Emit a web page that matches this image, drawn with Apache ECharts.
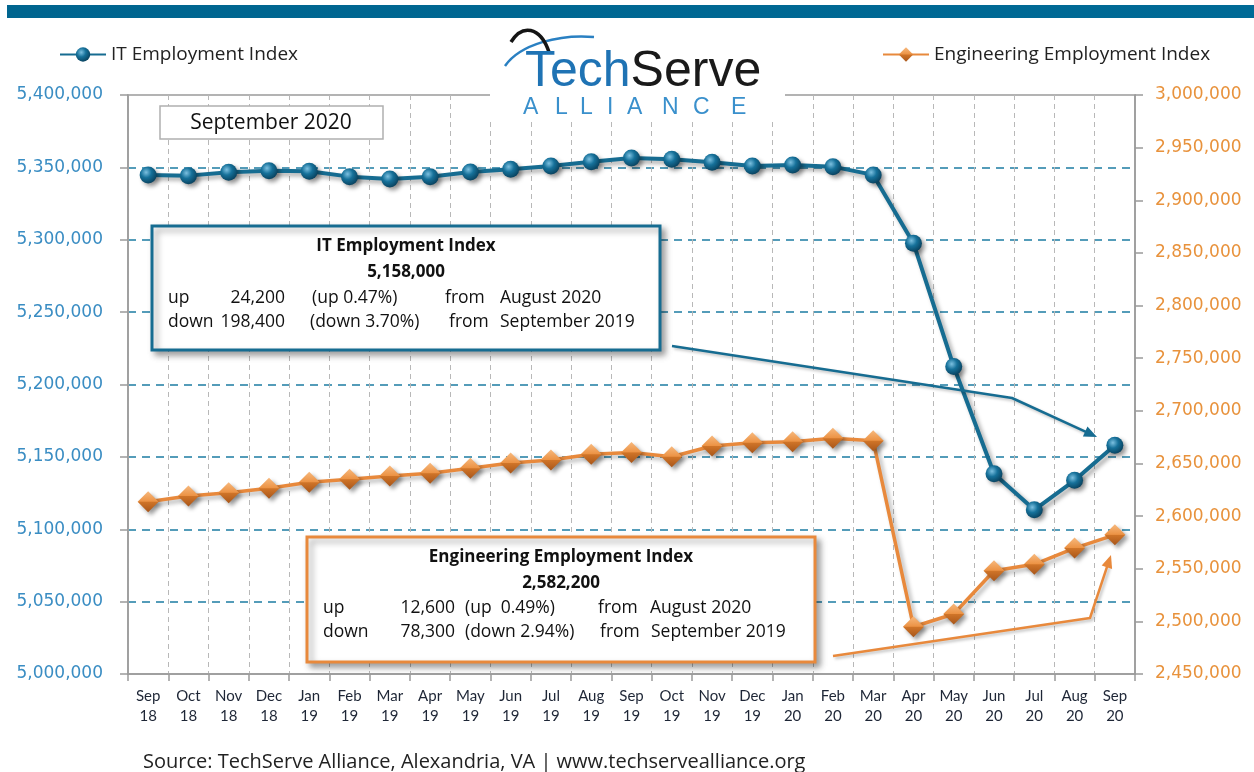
<!DOCTYPE html>
<html>
<head>
<meta charset="utf-8">
<script src="https://cdn.jsdelivr.net/npm/echarts@6/dist/echarts.min.js"></script>
<style>
html,body{margin:0;padding:0;background:#fff;}
#chart{width:1254px;height:772px;}
</style>
</head>
<body>
<div id="chart"></div>
<script>
// ---------- data ----------
var categories = ['Sep 18','Oct 18','Nov 18','Dec 18','Jan 19','Feb 19','Mar 19','Apr 19','May 19','Jun 19','Jul 19','Aug 19','Sep 19','Oct 19','Nov 19','Dec 19','Jan 20','Feb 20','Mar 20','Apr 20','May 20','Jun 20','Jul 20','Aug 20','Sep 20'];
var itValues = [5344800,5344300,5346600,5347700,5347300,5343600,5342000,5343600,5346800,5348700,5351000,5353900,5356400,5355600,5353500,5351000,5351700,5350500,5344800,5297600,5212400,5138300,5113400,5133800,5158000];
var engValues = [2613700,2619100,2622200,2626400,2632100,2635000,2638100,2640700,2645400,2650400,2653300,2658700,2660500,2656400,2666600,2669700,2670700,2673900,2671600,2494900,2507000,2548100,2554200,2569600,2582200];
var leftAxis = {min:5000000, max:5400000, interval:50000};
var rightAxis = {min:2450000, max:3000000, interval:50000};
var seriesNames = ['IT Employment Index','Engineering Employment Index'];
var itBoxLines = ['IT Employment Index','5,158,000'];
var itBoxRows = [['up','24,200','(up 0.47%)','from','August 2020'],['down','198,400','(down 3.70%)','from','September 2019']];
var engBoxLines = ['Engineering Employment Index','2,582,200'];
var engBoxRows = [['up','12,600','(up  0.49%)','from','August 2020'],['down','78,300','(down 2.94%)','from','September 2019']];
var periodLabel = 'September 2020';
var sourceText = 'Source: TechServe Alliance, Alexandria, VA | www.techservealliance.org';

// ---------- styles ----------
var IT_COLOR = '#166c91';
var ENG_COLOR = '#e8893c';
var FONT = 'Open Sans';
var fmt = function (v) { return Number(v).toLocaleString('en-US'); };

function arrowEls(pts, color, width) {
  var n = pts.length, tip = pts[n - 1], prev = pts[n - 2];
  var dx = tip[0] - prev[0], dy = tip[1] - prev[1];
  var L = Math.sqrt(dx * dx + dy * dy); dx /= L; dy /= L;
  var len = 13, hw = 5.5;
  var base = [tip[0] - dx * len, tip[1] - dy * len];
  var line = pts.slice(0, n - 1).concat([[base[0] + dx * 2, base[1] + dy * 2]]);
  return [
    {type:'polyline', z:100, shape:{points:line}, style:{stroke:color, lineWidth:width, fill:null, lineJoin:'round',
      shadowBlur:3, shadowOffsetX:2, shadowOffsetY:2, shadowColor:'rgba(0,0,0,0.25)'}},
    {type:'polygon', z:100, shape:{points:[tip,[base[0]-dy*hw, base[1]+dx*hw],[base[0]+dy*hw, base[1]-dx*hw]]}, style:{fill:color}}
  ];
}

function boxEls(x, y, w, h, color, titles, rows, cols, rowY) {
  var els = [{type:'rect', z:100, shape:{x:x, y:y, width:w, height:h}, style:{fill:'#fff', stroke:color, lineWidth:3,
    shadowBlur:6, shadowOffsetX:4, shadowOffsetY:4, shadowColor:'rgba(0,0,0,0.35)'}}];
  var cx = x + w / 2;
  els.push({type:'text', z:101, style:{text:titles[0], x:cx, y:y + 20, textAlign:'center', textVerticalAlign:'middle', font:'bold 17px "' + FONT + '"', fill:'#111'}});
  els.push({type:'text', z:101, style:{text:titles[1], x:cx, y:y + 46, textAlign:'center', textVerticalAlign:'middle', font:'bold 17px "' + FONT + '"', fill:'#111'}});
  rows.forEach(function (r, i) {
    r.forEach(function (t, j) {
      var c = cols[i][j];
      els.push({type:'text', z:101, style:{text:t, x:c[0], y:rowY[i], textAlign:c[1], textVerticalAlign:'middle', font:'17.5px "' + FONT + '"', fill:'#111'}});
    });
  });
  return els;
}

var chart = echarts.init(document.getElementById('chart'), null, {renderer:'canvas'});

var ballGrad = {type:'radial', x:0.38, y:0.35, r:0.7, colorStops:[{offset:0,color:'#7cc0e0'},{offset:0.45,color:'#16719a'},{offset:1,color:'#083f5b'}]};
var diaGrad = {type:'linear', x:0, y:0, x2:0, y2:1, colorStops:[{offset:0,color:'#f7b97e'},{offset:0.48,color:'#ec9345'},{offset:0.52,color:'#cf7428'},{offset:1,color:'#a8561a'}]};

var graphics = [];
// top banner
graphics.push({type:'rect', z:100, shape:{x:7, y:5, width:1247, height:13}, style:{fill:{type:'linear',x:0,y:0,x2:1,y2:0,colorStops:[{offset:0,color:'#00658f'},{offset:1,color:'#006a96'}]}}});
// logo
graphics.push({type:'rect', z:100, shape:{x:490, y:24, width:295, height:98}, style:{fill:'#fff'}});
graphics.push({type:'bezierCurve', z:101, shape:{x1:505, y1:66, cpx1:520, cpy1:44, cpx2:560, cpy2:34, x2:594, y2:37}, style:{stroke:'#2a80c2', lineWidth:2.5, fill:null}});
graphics.push({type:'bezierCurve', z:101, shape:{x1:511, y1:42, cpx1:522, cpy1:24, cpx2:540, cpy2:26, x2:549, y2:52}, style:{stroke:'#151515', lineWidth:3.5, fill:null}});
graphics.push({type:'text', z:101, style:{text:'{a|Tech}{b|Serve}', x:525, y:97, textVerticalAlign:'bottom',
  rich:{a:{fontFamily:'Liberation Sans', fontSize:50, fill:'#1f73b4'}, b:{fontFamily:'Liberation Sans', fontSize:50, fill:'#1a1a1a'}}}});
var allianceLetters = ['A','L','L','I','A','N','C','E'];
var allianceX = [523,555,580,607,627,662,693,731];
allianceLetters.forEach(function (ch, i) {
  graphics.push({type:'text', z:101, style:{text:ch, x:allianceX[i], y:119, textVerticalAlign:'bottom', font:'23px "Liberation Sans"', fill:'#3a90cc'}});
});
// period box
graphics.push({type:'rect', z:100, shape:{x:160, y:106, width:223, height:33}, style:{fill:'#fff', stroke:'#b0b0b0', lineWidth:1.5}});
graphics.push({type:'text', z:101, style:{text:periodLabel, x:271, y:123, textAlign:'center', textVerticalAlign:'middle', font:'21px "' + FONT + '"', fill:'#111'}});
// annotation boxes
graphics = graphics.concat(boxEls(152, 226, 508, 124, IT_COLOR, itBoxLines, itBoxRows,
  [[[168,'left'],[285,'right'],[312,'left'],[445,'left'],[500,'left']],[[168,'left'],[285,'right'],[310,'left'],[449,'left'],[500,'left']]],
  [298, 322]));
graphics = graphics.concat(boxEls(307, 537, 508, 125, ENG_COLOR, engBoxLines, engBoxRows,
  [[[323,'left'],[455,'right'],[465,'left'],[598,'left'],[650,'left']],[[323,'left'],[455,'right'],[465,'left'],[600,'left'],[651,'left']]],
  [608, 632]));
// arrows
graphics = graphics.concat(arrowEls([[672,346],[1012,398],[1097,437]], IT_COLOR, 2.5));
graphics = graphics.concat(arrowEls([[833,656],[1090,618],[1111,555]], ENG_COLOR, 2.5));
// source
graphics.push({type:'text', z:101, style:{text:sourceText, x:143, y:762, textVerticalAlign:'middle', font:'20px "' + FONT + '"', fill:'#222'}});

var teal = '#1d7ca3';
var splitColors = ['rgba(0,0,0,0)'];
for (var i = 0; i < 7; i++) splitColors.push(teal);
splitColors.push('rgba(0,0,0,0)');

var option = {
  animation:false,
  backgroundColor:'#fff',
  grid:{left:128, right:119, top:95, bottom:98, show:true, borderColor:'#9a9a9a', borderWidth:1.5, containLabel:false, outerBoundsMode:'none'},
  legend:[
    {data:[seriesNames[0]], left:54, top:40, itemWidth:46, itemHeight:18, textStyle:{fontFamily:FONT, fontSize:19, color:'#222'}},
    {data:[seriesNames[1]], left:877, top:40, itemWidth:46, itemHeight:18, textStyle:{fontFamily:FONT, fontSize:19, color:'#222'}}
  ],
  xAxis:{
    type:'category', data:categories, boundaryGap:true,
    axisLine:{lineStyle:{color:'#9a9a9a', width:1.5}},
    axisTick:{show:true, length:7, interval:0, lineStyle:{color:'#9a9a9a', width:1.5}},
    axisLabel:{interval:0, margin:12, fontFamily:'Lato', fontSize:15, lineHeight:20, color:'#1e2636',
      formatter:function (v) { return v.replace(' ', '\n'); }},
    splitLine:{show:true, interval:0, lineStyle:{color:'#b8b8b8', type:[5,4], width:1}}
  },
  yAxis:[
    {type:'value', position:'left', min:leftAxis.min, max:leftAxis.max, interval:leftAxis.interval,
      axisLine:{show:true, lineStyle:{color:'#9a9a9a', width:1.5}},
      axisTick:{show:true, length:8, lineStyle:{color:'#9a9a9a', width:1.5}},
      axisLabel:{margin:25, fontFamily:'DejaVu Sans', fontSize:17, color:'#3a8dc3', formatter:fmt},
      splitLine:{show:true, lineStyle:{color:splitColors, type:[8,6], width:1.5}}},
    {type:'value', position:'right', min:rightAxis.min, max:rightAxis.max, interval:rightAxis.interval,
      axisLine:{show:true, lineStyle:{color:'#9a9a9a', width:1.5}},
      axisTick:{show:true, length:8, lineStyle:{color:'#9a9a9a', width:1.5}},
      axisLabel:{margin:20, fontFamily:'DejaVu Sans', fontSize:17, color:'#e8923c', formatter:fmt},
      splitLine:{show:false}}
  ],
  series:[
    {name:seriesNames[0], type:'line', yAxisIndex:0, data:itValues, symbol:'circle', symbolSize:17, showAllSymbol:true, z:4,
      lineStyle:{color:IT_COLOR, width:4, shadowColor:'rgba(0,0,0,0.35)', shadowBlur:4, shadowOffsetX:3, shadowOffsetY:3},
      itemStyle:{color:ballGrad, borderWidth:0, shadowColor:'rgba(0,0,0,0.4)', shadowBlur:4, shadowOffsetX:3, shadowOffsetY:3}},
    {name:seriesNames[1], type:'line', yAxisIndex:1, data:engValues, symbol:'diamond', symbolSize:[21,21], showAllSymbol:true, z:3,
      lineStyle:{color:ENG_COLOR, width:3.5, shadowColor:'rgba(0,0,0,0.3)', shadowBlur:4, shadowOffsetX:3, shadowOffsetY:3},
      itemStyle:{color:diaGrad, borderWidth:0, shadowColor:'rgba(0,0,0,0.4)', shadowBlur:4, shadowOffsetX:3, shadowOffsetY:3}}
  ],
  graphic:{elements:graphics}
};
chart.setOption(option);
</script>
</body>
</html>
